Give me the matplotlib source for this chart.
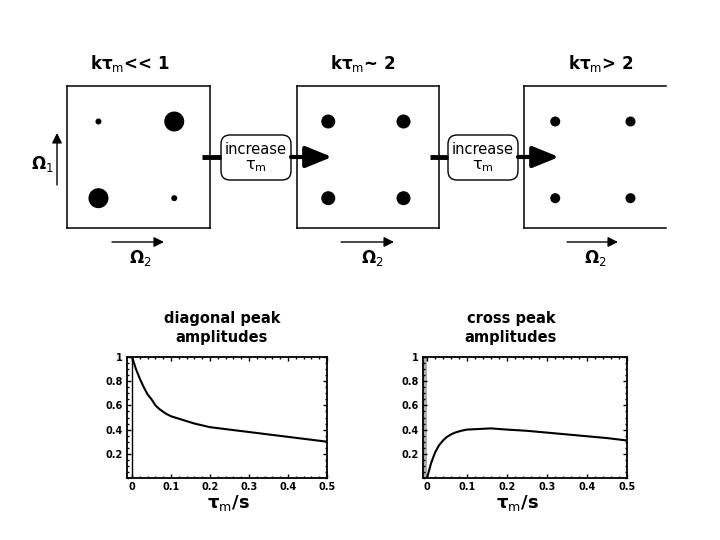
"""
Diagram of NOESY cross-relaxation: 2D spectra for increasing mixing time,
plus diagonal / cross peak amplitude build-up curves.
"""

import matplotlib
matplotlib.use("Agg")
import matplotlib.pyplot as plt
from matplotlib.patches import FancyBboxPatch, FancyArrowPatch
from matplotlib.ticker import MultipleLocator, FuncFormatter

# spectrum boxes: titles, peak positions (fraction of box) and dot radii (px)
box_titles = ["kτ$_\\mathrm{m}$<< 1", "kτ$_\\mathrm{m}$~ 2", "kτ$_\\mathrm{m}$> 2"]
peak_x = [0.22, 0.75, 0.22, 0.75]
peak_y = [0.75, 0.75, 0.21, 0.21]
peak_radius = [
    [3, 10, 10, 3],   # kτm << 1 : diagonal big, cross small
    [7, 7, 7, 7],     # kτm ~ 2
    [5, 5, 5, 5],     # kτm > 2
]

# amplitude curves
tau = [0.0, 0.005, 0.01, 0.015, 0.02, 0.03, 0.04, 0.05, 0.06, 0.07, 0.085, 0.1,
       0.13, 0.16, 0.2, 0.25, 0.3, 0.35, 0.4, 0.45, 0.5]
diag_amp = [1.0, 0.95, 0.90, 0.86, 0.82, 0.75, 0.69, 0.65, 0.60, 0.57, 0.535, 0.51,
            0.48, 0.45, 0.42, 0.40, 0.38, 0.36, 0.34, 0.32, 0.30]
cross_amp = [0.0, 0.06, 0.12, 0.165, 0.21, 0.27, 0.31, 0.34, 0.36, 0.375, 0.39, 0.40,
             0.405, 0.41, 0.40, 0.39, 0.375, 0.36, 0.345, 0.33, 0.31]

W, H = 720, 540
fig = plt.figure(figsize=(7.2, 5.4), dpi=100)


def px_axes(x0, y0, x1, y1):
    return fig.add_axes([x0 / W, 1 - y1 / H, (x1 - x0) / W, (y1 - y0) / H])


# --- spectrum boxes ---
box_px = [(67, 86, 210, 228), (297, 86, 439, 228), (524, 86, 666, 228)]
for i, (x0, y0, x1, y1) in enumerate(box_px):
    ax = px_axes(x0, y0, x1, y1)
    ax.set_xlim(0, 1)
    ax.set_ylim(0, 1)
    ax.set_xticks([])
    ax.set_yticks([])
    for sp in ax.spines.values():
        sp.set_linewidth(1.1)
    if i == 2:
        ax.spines["right"].set_visible(False)
    sizes = [(2 * r * 0.72) ** 2 for r in peak_radius[i]]
    ax.scatter(peak_x, peak_y, s=sizes, color="black", linewidths=0)

# --- overlay for labels and arrows ---
ov = fig.add_axes([0, 0, 1, 1])
ov.set_xlim(0, W)
ov.set_ylim(H, 0)
ov.axis("off")

title_x = [130, 363, 601]
for tx, t in zip(title_x, box_titles):
    ov.text(tx, 64, t, ha="center", va="center", fontsize=12, fontweight="bold")

# Omega_2 arrows under each box
om2_arrows = [(112, 164, 140), (341, 394, 372), (567, 618, 595)]
for xa, xb, xl in om2_arrows:
    ov.add_patch(FancyArrowPatch((xa, 242), (xb, 242), arrowstyle="-|>,head_length=0.6,head_width=0.3",
                                 mutation_scale=10, lw=1.0, color="black", shrinkA=0, shrinkB=0))
    ov.text(xl, 258, "Ω$_2$", ha="center", va="center", fontsize=12, fontweight="bold")

# Omega_1 arrow
ov.add_patch(FancyArrowPatch((57, 185), (57, 133), arrowstyle="-|>,head_length=0.6,head_width=0.3",
                             mutation_scale=10, lw=1.0, color="black", shrinkA=0, shrinkB=0))
ov.text(42, 164, "Ω$_1$", ha="center", va="center", fontsize=12, fontweight="bold")

# "increase tau_m" boxes with thick arrows
for xs, bx in [(202, 221), (430, 448)]:
    ov.plot([xs, bx], [157, 157], color="black", lw=3.5, solid_capstyle="butt")
    ov.add_patch(FancyBboxPatch((bx, 135), 70, 45, boxstyle="round,pad=0,rounding_size=9",
                                fc="white", ec="black", lw=1.0))
    ov.text(bx + 35, 150, "increase", ha="center", va="center", fontsize=10.5)
    ov.text(bx + 35, 166, "τ$_\\mathrm{m}$", ha="center", va="center", fontsize=11.5)
    ov.add_patch(FancyArrowPatch((bx + 70, 157), (bx + 111, 157),
                                 arrowstyle="-|>,head_length=1.6,head_width=0.65",
                                 mutation_scale=10, lw=3.0, color="black", shrinkA=0, shrinkB=0))

# --- amplitude plots ---
plots = [
    ((127, 357, 327, 478), -0.013, diag_amp, "diagonal peak\namplitudes", 222),
    ((423, 357, 627, 478), -0.01, cross_amp, "cross peak\namplitudes", 511),
]
fmt = FuncFormatter(lambda v, p: f"{v:g}")
for (x0, y0, x1, y1), xmin, amp, ttl, tcx in plots:
    ax = px_axes(x0, y0, x1, y1)
    ax.plot(tau, amp, color="black", lw=1.5)
    ax.set_xlim(xmin, 0.5)
    ax.set_ylim(0, 1)
    if xmin < -0.012:
        ax.axvline(0, color="black", lw=1.0)
    else:
        ax.axvspan(xmin, 0, color="#b0b0b0", lw=0)
    ax.set_xticks([0, 0.1, 0.2, 0.3, 0.4, 0.5])
    ax.set_yticks([0.2, 0.4, 0.6, 0.8, 1.0])
    ax.xaxis.set_minor_locator(MultipleLocator(0.02))
    ax.yaxis.set_minor_locator(MultipleLocator(0.05))
    ax.xaxis.set_major_formatter(fmt)
    ax.yaxis.set_major_formatter(fmt)
    ax.tick_params(which="both", direction="in", top=True, right=True, width=1.0)
    ax.tick_params(which="major", length=3, labelsize=7, pad=3)
    ax.tick_params(which="minor", length=1.5)
    for lab in ax.get_xticklabels() + ax.get_yticklabels():
        lab.set_fontweight("bold")
    for sp in ax.spines.values():
        sp.set_linewidth(1.3)
    fig.text(tcx / W, 1 - 328 / H, ttl, ha="center", va="center", fontsize=10.5,
             fontweight="heavy", linespacing=1.3)
    fig.text((tcx + 6) / W, 1 - 503 / H, "τ$_\\mathrm{m}$/s", ha="center", va="center",
             fontsize=13, fontweight="bold")

fig.savefig("out.png", dpi=100)
